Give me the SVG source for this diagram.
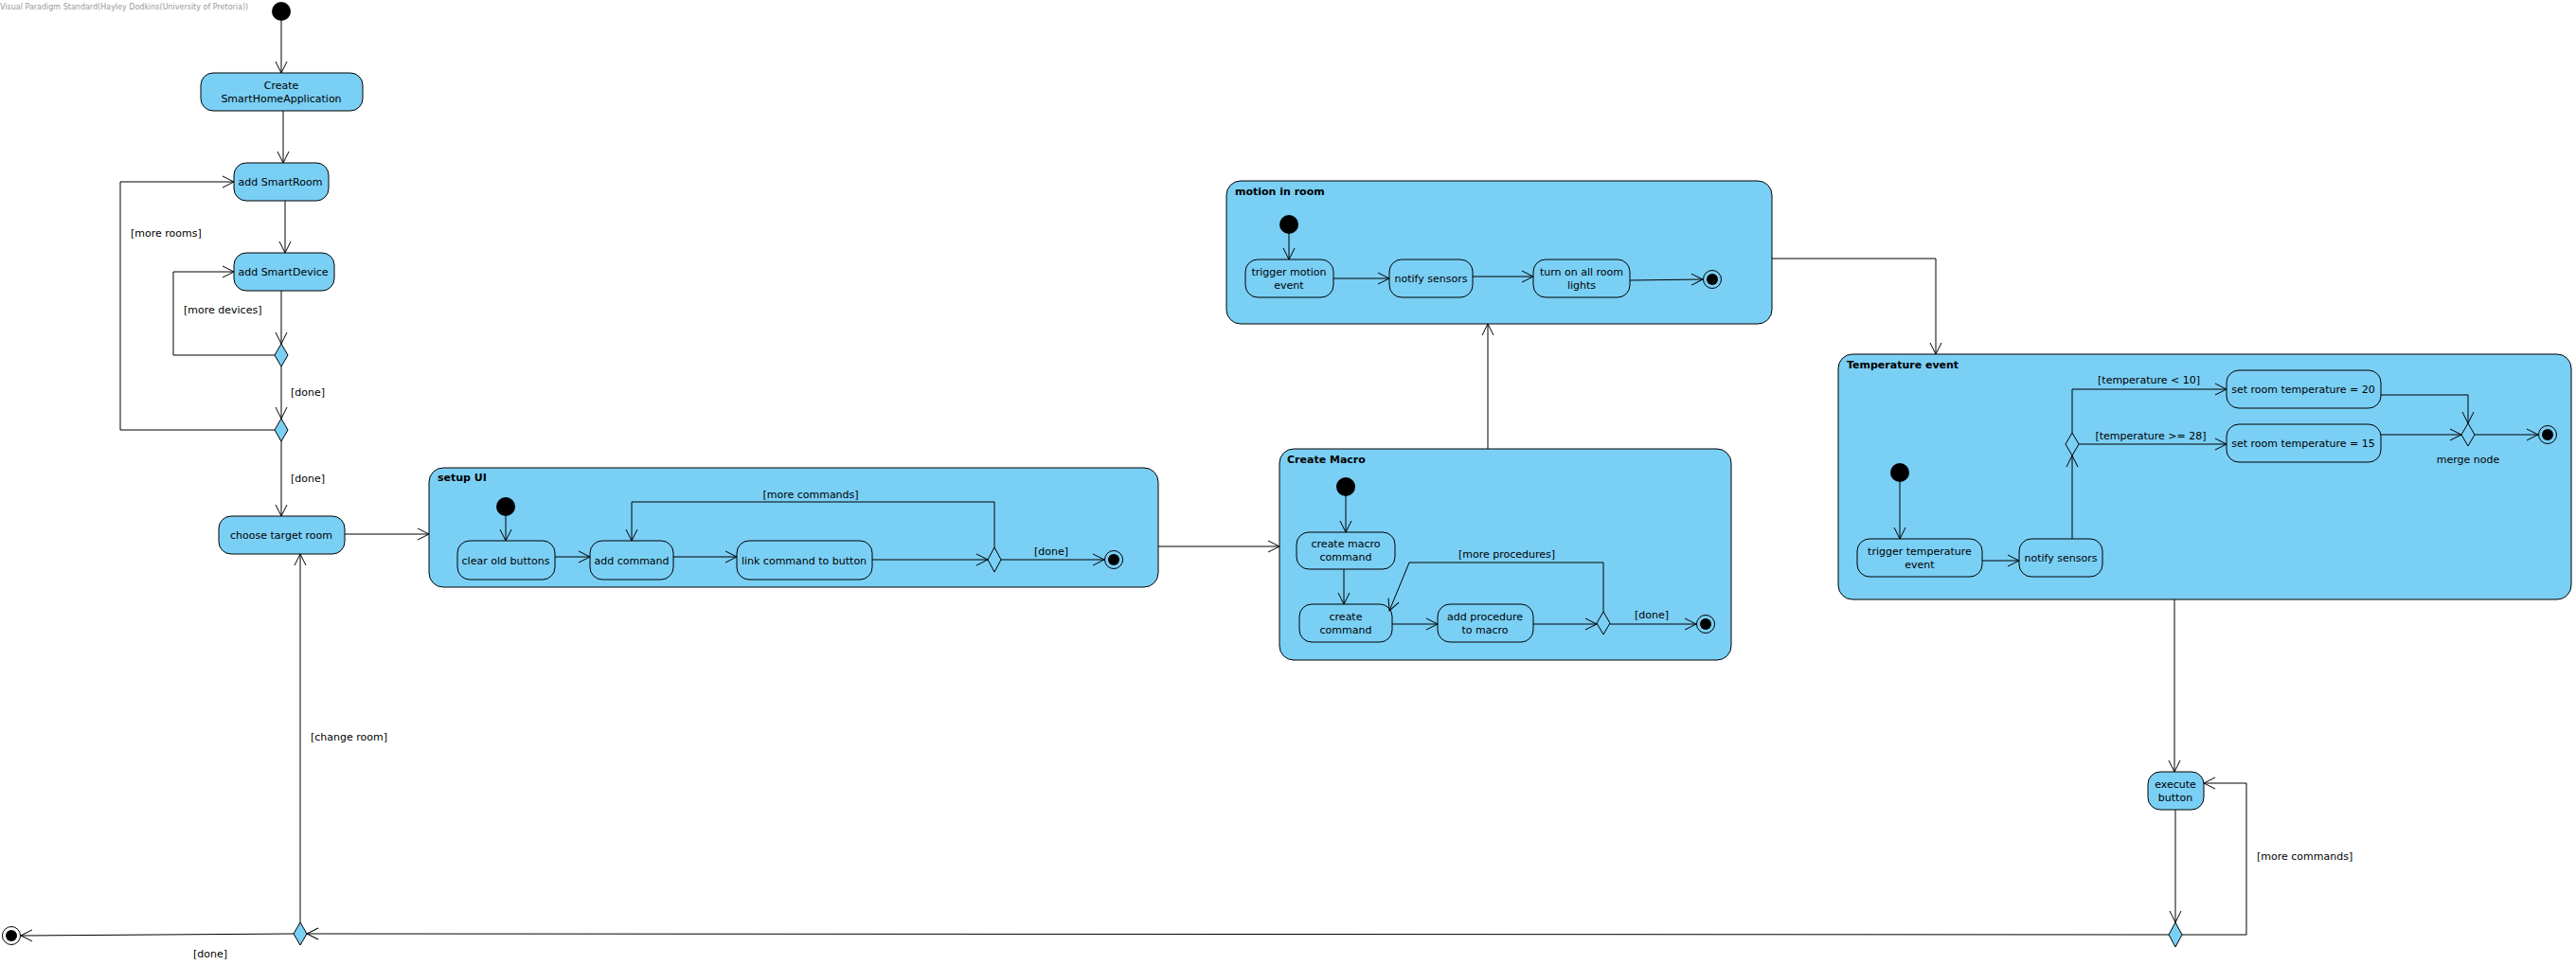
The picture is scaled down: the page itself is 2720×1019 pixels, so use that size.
<svg xmlns="http://www.w3.org/2000/svg" width="2720" height="1019" viewBox="0 0 2720 1019">
<style>
text{font-family:"DejaVu Sans","Liberation Sans",sans-serif;font-size:11px;fill:#000}
.t{text-anchor:middle}
.title{font-weight:bold}
.wm{font-size:8px;fill:#999}
.act{fill:#7ACFF5;stroke:#000;stroke-width:1}
.inner{fill:none;stroke:#000;stroke-width:1}
.comp{fill:#7ACFF5;stroke:#000;stroke-width:1}
.dec{fill:#7ACFF5;stroke:#000;stroke-width:1}
.idec{fill:none;stroke:#000;stroke-width:1}
.c{fill:none;stroke:#000;stroke-width:1;marker-end:url(#arr)}
.cn{fill:none;stroke:#000;stroke-width:1}
</style>
<defs>
<marker id="arr" viewBox="0 0 14 14" refX="13" refY="7" markerWidth="14" markerHeight="14" markerUnits="userSpaceOnUse" orient="auto">
<path d="M1,1 L13,7 L1,13" fill="none" stroke="#000" stroke-width="1"/>
</marker>
</defs>
<rect width="2720" height="1019" fill="#fff"/>
<text class="wm" x="0" y="10">Visual Paradigm Standard(Hayley Dodkins(University of Pretoria))</text>

<g id="start"><circle cx="297" cy="12" r="10" fill="#000"/></g>
<g id="create-app"><rect class="act" x="212" y="77" width="171" height="40" rx="13"/><text class="t" x="297" y="94">Create</text><text class="t" x="297" y="108">SmartHomeApplication</text></g>
<g id="add-room"><rect class="act" x="247" y="172" width="100" height="40" rx="13"/><text class="t" x="296" y="196">add SmartRoom</text></g>
<g id="add-device"><rect class="act" x="247" y="267" width="106" height="40" rx="13"/><text class="t" x="299" y="291">add SmartDevice</text></g>
<g id="dec-device"><polygon class="dec" points="297,363 304,375 297,387 290,375"/></g>
<g id="dec-room"><polygon class="dec" points="297,442 304,454 297,466 290,454"/></g>
<g id="choose-room"><rect class="act" x="231" y="545" width="133" height="40" rx="13"/><text class="t" x="297" y="569">choose target room</text></g>
<g id="dec-change"><polygon class="dec" points="317,974 324,986 317,998 310,986"/></g>
<g id="final-main"><circle cx="12" cy="988" r="9.5" fill="#fff" stroke="#000"/><circle cx="12" cy="988" r="6" fill="#000"/></g>

<g id="setup-ui">
<rect class="comp" x="453" y="494" width="770" height="126" rx="15"/>
<text class="title" x="462" y="508">setup UI</text>
<g id="setup-start"><circle cx="534" cy="535" r="10" fill="#000"/></g>
<g id="clear-buttons"><rect class="inner" x="483" y="571" width="103" height="41" rx="13"/><text class="t" x="534" y="596">clear old buttons</text></g>
<g id="add-command"><rect class="inner" x="623" y="571" width="88" height="41" rx="13"/><text class="t" x="667" y="596">add command</text></g>
<g id="link-command"><rect class="inner" x="778" y="571" width="143" height="41" rx="13"/><text class="t" x="849" y="596">link command to button</text></g>
<g id="setup-dec"><polygon class="idec" points="1050,578 1057,591 1050,604 1043,591"/></g>
<g id="setup-final"><circle cx="1176" cy="591" r="9.5" fill="none" stroke="#000"/><circle cx="1176" cy="591" r="6" fill="#000"/></g>
</g>

<g id="create-macro">
<rect class="comp" x="1351" y="474" width="477" height="223" rx="15"/>
<text class="title" x="1359" y="489">Create Macro</text>
<g id="macro-start"><circle cx="1421" cy="514" r="10" fill="#000"/></g>
<g id="create-macro-command"><rect class="inner" x="1369" y="562" width="104" height="39" rx="13"/><text class="t" x="1421" y="578">create macro</text><text class="t" x="1421" y="592">command</text></g>
<g id="create-command"><rect class="inner" x="1372" y="638" width="98" height="40" rx="13"/><text class="t" x="1421" y="655">create</text><text class="t" x="1421" y="669">command</text></g>
<g id="add-procedure"><rect class="inner" x="1518" y="638" width="101" height="40" rx="13"/><text class="t" x="1568" y="655">add procedure</text><text class="t" x="1568" y="669">to macro</text></g>
<g id="macro-dec"><polygon class="idec" points="1693,646 1700,658 1693,670 1686,658"/></g>
<g id="macro-final"><circle cx="1801" cy="659" r="9.5" fill="none" stroke="#000"/><circle cx="1801" cy="659" r="6" fill="#000"/></g>
</g>

<g id="motion-in-room">
<rect class="comp" x="1295" y="191" width="576" height="151" rx="15"/>
<text class="title" x="1304" y="206">motion in room</text>
<g id="motion-start"><circle cx="1361" cy="237" r="10" fill="#000"/></g>
<g id="trigger-motion"><rect class="inner" x="1315" y="274" width="93" height="40" rx="13"/><text class="t" x="1361" y="291">trigger motion</text><text class="t" x="1361" y="305">event</text></g>
<g id="motion-notify"><rect class="inner" x="1467" y="274" width="88" height="40" rx="13"/><text class="t" x="1511" y="298">notify sensors</text></g>
<g id="lights-on"><rect class="inner" x="1619" y="274" width="102" height="40" rx="13"/><text class="t" x="1670" y="291">turn on all room</text><text class="t" x="1670" y="305">lights</text></g>
<g id="motion-final"><circle cx="1808" cy="295" r="9.5" fill="none" stroke="#000"/><circle cx="1808" cy="295" r="6" fill="#000"/></g>
</g>

<g id="temperature-event">
<rect class="comp" x="1941" y="374" width="774" height="259" rx="15"/>
<text class="title" x="1950" y="389">Temperature event</text>
<g id="temp-start"><circle cx="2006" cy="499" r="10" fill="#000"/></g>
<g id="trigger-temp"><rect class="inner" x="1961" y="569" width="132" height="40" rx="13"/><text class="t" x="2027" y="586">trigger temperature</text><text class="t" x="2027" y="600">event</text></g>
<g id="temp-notify"><rect class="inner" x="2132" y="569" width="88" height="40" rx="13"/><text class="t" x="2176" y="593">notify sensors</text></g>
<g id="temp-dec"><polygon class="idec" points="2188,457 2195,469 2188,481 2181,469"/></g>
<g id="set-20"><rect class="inner" x="2351" y="391" width="163" height="40" rx="13"/><text class="t" x="2432" y="415">set room temperature = 20</text></g>
<g id="set-15"><rect class="inner" x="2351" y="448" width="163" height="40" rx="13"/><text class="t" x="2432" y="472">set room temperature = 15</text></g>
<g id="merge-node"><polygon class="idec" points="2606,447 2613,459 2606,471 2599,459"/><text class="t" x="2606" y="489">merge node</text></g>
<g id="temp-final"><circle cx="2690" cy="459" r="9.5" fill="none" stroke="#000"/><circle cx="2690" cy="459" r="6" fill="#000"/></g>
</g>

<g id="execute-button"><rect class="act" x="2268" y="815" width="59" height="40" rx="13"/><text class="t" x="2297" y="832">execute</text><text class="t" x="2297" y="846">button</text></g>
<g id="dec-execute"><polygon class="dec" points="2297,974 2304,987 2297,1000 2290,987"/></g>

<g id="connectors">
<path class="c" d="M297,22 L297,77"/>
<path class="c" d="M299,117 L299,172"/>
<path class="c" d="M301,212 L301,267"/>
<path class="c" d="M297,307 L297,363"/>
<path class="c" d="M290,375 L183,375 L183,287 L247,287"/>
<text x="194" y="331">[more devices]</text>
<path class="c" d="M297,387 L297,442"/>
<text x="307" y="418">[done]</text>
<path class="c" d="M290,454 L127,454 L127,192 L247,192"/>
<text x="138" y="250">[more rooms]</text>
<path class="c" d="M297,466 L297,545"/>
<text x="307" y="509">[done]</text>
<path class="c" d="M364,564 L453,564"/>

<path class="c" d="M534,545 L534,571"/>
<path class="c" d="M586,588 L623,588"/>
<path class="c" d="M711,588 L778,588"/>
<path class="c" d="M921,591 L1043,591"/>
<path class="c" d="M1050,578 L1050,530 L667,530 L667,571"/>
<text class="t" x="856" y="526">[more commands]</text>
<path class="c" d="M1057,591 L1166,591"/>
<text class="t" x="1110" y="586">[done]</text>

<path class="c" d="M1223,577 L1351,577"/>

<path class="c" d="M1421,524 L1421,562"/>
<path class="c" d="M1419,601 L1419,638"/>
<path class="c" d="M1470,659 L1518,659"/>
<path class="c" d="M1619,659 L1686,659"/>
<path class="c" d="M1693,646 L1693,594 L1488,594 L1467,645"/>
<text class="t" x="1591" y="589">[more procedures]</text>
<path class="c" d="M1700,659 L1791,659"/>
<text class="t" x="1744" y="653">[done]</text>

<path class="c" d="M1571,474 L1571,342"/>

<path class="c" d="M1361,247 L1361,274"/>
<path class="c" d="M1408,294 L1467,294"/>
<path class="c" d="M1555,292 L1619,292"/>
<path class="c" d="M1721,296 L1798,295"/>

<path class="c" d="M1871,273 L2044,273 L2044,374"/>

<path class="c" d="M2006,509 L2006,569"/>
<path class="c" d="M2093,592 L2132,592"/>
<path class="c" d="M2188,569 L2188,481"/>
<path class="c" d="M2188,457 L2188,411 L2351,411"/>
<text class="t" x="2269" y="405">[temperature &lt; 10]</text>
<path class="c" d="M2195,469 L2351,469"/>
<text class="t" x="2271" y="464">[temperature &gt;= 28]</text>
<path class="c" d="M2514,417 L2606,417 L2606,447"/>
<path class="c" d="M2514,459 L2599,459"/>
<path class="c" d="M2613,459 L2680,459"/>

<path class="c" d="M2296,633 L2296,815"/>
<path class="c" d="M2297,855 L2297,974"/>
<path class="c" d="M2304,987 L2372,987 L2372,827 L2327,827"/>
<text x="2383" y="908">[more commands]</text>
<path class="c" d="M2290,987 L324,986"/>
<path class="c" d="M317,974 L317,585"/>
<path class="c" d="M310,986 L22,988"/>
<text x="204" y="1011">[done]</text>
<text x="328" y="782">[change room]</text>
</g>
</svg>
